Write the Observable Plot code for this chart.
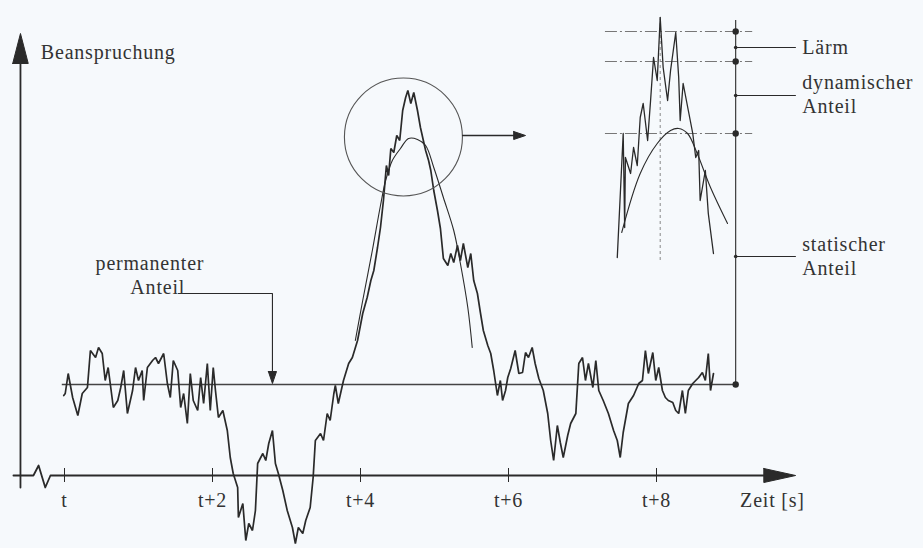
<!DOCTYPE html>
<html><head><meta charset="utf-8">
<script src="https://cdn.jsdelivr.net/npm/d3@7"></script>
<script src="https://cdn.jsdelivr.net/npm/@observablehq/plot@0.6"></script>
<style>
html,body{margin:0;padding:0;background:#f6f9fc;}
#chart svg{display:block}
</style></head><body><div id="chart"></div><script>
// measured signal: [time (s after t), Beanspruchung]
const signal = [[-0.01,8.0],[0.01,8.2],[0.05,10.2],[0.11,7.8],[0.18,6.0],[0.24,8.2],[0.31,8.8],[0.35,12.5],[0.42,11.8],[0.46,12.8],[0.51,12.2],[0.55,9.5],[0.59,10.8],[0.66,6.8],[0.72,7.5],[0.76,8.8],[0.80,10.5],[0.85,6.2],[0.92,8.5],[0.96,10.8],[1.00,9.5],[1.05,10.5],[1.07,7.5],[1.12,10.8],[1.19,11.5],[1.23,11.8],[1.27,11.2],[1.34,12.2],[1.39,9.2],[1.43,7.8],[1.47,11.5],[1.53,10.5],[1.57,6.8],[1.61,8.2],[1.66,5.2],[1.70,10.2],[1.74,7.5],[1.80,6.5],[1.84,9.8],[1.88,7.2],[1.93,11.2],[1.97,6.5],[2.01,10.8],[2.04,8.5],[2.08,5.8],[2.14,6.5],[2.20,4.5],[2.24,1.8],[2.28,0.2],[2.34,-1.2],[2.35,-4.2],[2.41,-2.8],[2.45,-6.5],[2.49,-4.8],[2.54,-5.5],[2.58,-3.5],[2.61,1.2],[2.68,2.2],[2.72,1.5],[2.76,3.2],[2.81,4.5],[2.85,1.2],[2.89,0.2],[2.95,-1.5],[3.01,-3.5],[3.08,-5.2],[3.12,-6.8],[3.16,-5.2],[3.22,-5.8],[3.26,-4.5],[3.32,-3.2],[3.36,-0.2],[3.39,3.5],[3.46,4.2],[3.50,3.5],[3.55,6.2],[3.59,5.5],[3.64,8.2],[3.66,9.0],[3.70,7.2],[3.77,9.5],[3.84,11.2],[3.89,11.8],[3.96,13.5],[4.03,16.2],[4.09,17.8],[4.14,19.5],[4.18,20.5],[4.23,22.8],[4.27,24.8],[4.31,27.5],[4.35,31.0],[4.38,30.0],[4.41,32.7],[4.45,32.3],[4.49,34.0],[4.53,33.5],[4.57,36.5],[4.61,37.8],[4.64,38.5],[4.68,37.2],[4.72,38.3],[4.77,36.5],[4.81,34.8],[4.88,32.5],[4.92,31.5],[4.95,30.5],[4.99,28.5],[5.04,26.5],[5.08,24.7],[5.12,21.7],[5.18,21.0],[5.22,22.2],[5.26,21.3],[5.31,23.0],[5.35,21.5],[5.39,23.2],[5.45,20.8],[5.49,22.2],[5.53,19.5],[5.58,18.2],[5.62,16.3],[5.66,14.5],[5.72,13.0],[5.76,12.2],[5.80,10.5],[5.85,8.0],[5.89,9.5],[5.92,7.5],[5.96,8.5],[5.99,9.8],[6.03,10.7],[6.09,12.5],[6.14,10.2],[6.19,10.3],[6.23,12.3],[6.27,11.8],[6.32,12.8],[6.36,11.2],[6.41,9.7],[6.47,8.5],[6.53,6.2],[6.57,3.5],[6.61,1.5],[6.66,5.0],[6.70,3.3],[6.74,1.8],[6.80,4.0],[6.84,5.2],[6.91,6.2],[6.95,11.2],[7.00,11.8],[7.04,9.5],[7.08,11.2],[7.14,8.8],[7.18,11.5],[7.22,8.5],[7.28,7.5],[7.35,6.2],[7.42,4.5],[7.47,3.5],[7.51,1.8],[7.55,4.3],[7.62,7.2],[7.69,8.0],[7.76,9.2],[7.81,9.5],[7.85,12.5],[7.89,10.2],[7.95,12.3],[7.99,9.5],[8.03,10.8],[8.08,8.5],[8.12,7.8],[8.16,7.5],[8.22,7.3],[8.26,6.5],[8.30,6.2],[8.35,8.5],[8.39,6.2],[8.43,8.5],[8.49,9.2],[8.53,9.5],[8.57,9.8],[8.62,10.3],[8.66,9.5],[8.70,12.2],[8.73,8.5],[8.77,10.2]];
// smooth (quasi-static) curve around the peak
const smoothPeak = [[3.93,13.5],[4.03,17.5],[4.16,22.5],[4.27,27.0],[4.34,29.5],[4.43,31.5],[4.54,32.7],[4.65,33.7],[4.77,33.6],[4.88,33.0],[4.99,30.8],[5.12,27.8],[5.26,24.5],[5.35,21.2],[5.45,16.8],[5.51,12.8]];
// magnified detail (inset)
const insetSignal = [[7.47,21.8],[7.55,34.2],[7.57,24.8],[7.58,31.8],[7.65,30.2],[7.69,32.8],[7.74,31.0],[7.78,35.8],[7.82,37.2],[7.88,33.5],[7.92,37.5],[7.96,41.8],[8.01,39.5],[8.05,45.8],[8.09,40.8],[8.15,37.5],[8.19,40.5],[8.26,44.3],[8.30,39.8],[8.32,35.5],[8.36,39.2],[8.43,36.5],[8.49,34.2],[8.53,31.8],[8.57,32.5],[8.59,27.5],[8.66,30.5],[8.70,26.2],[8.77,22.2]];
const insetSmooth = [[7.53,24.3],[7.78,30.2],[8.01,33.2],[8.19,34.5],[8.30,34.7],[8.42,34.2],[8.55,32.2],[8.73,28.8],[8.96,25.2]];
// levels
const permanentLevel = 9.1;
const insetLevels = [44.4, 41.4, 34.2];           // peak, dynamic top, static top
const scaleX = 9.07;                               // vertical level scale in the inset
const scaleDots = [44.4, 41.4, 34.2, 9.1];
const labelMarks = [42.8, 38.0, 21.9];
// ticks and labels
const tickTimes = [0, 2, 4, 6, 8];
const tickLabels = ["t", "t+2", "t+4", "t+6", "t+8"];
const labels = [
  {x: -0.32, y: 42.3, text: "Beanspruchung"},
  {x: 9.13, y: -2.5, text: "Zeit [s]"},
  {x: 0.42, y: 21.2, text: "permanenter"},
  {x: 0.89, y: 18.8, text: "Anteil"},
  {x: 9.97, y: 42.8, text: "Lärm"},
  {x: 9.97, y: 39.3, text: "dynamischer"},
  {x: 9.97, y: 36.9, text: "Anteil"},
  {x: 9.97, y: 23.1, text: "statischer"},
  {x: 9.97, y: 20.7, text: "Anteil"}
];
// axes drawing (with axis break)
const xAxisPath = [[-0.69,0],[-0.42,0],[-0.35,1.0],[-0.26,-1.2],[-0.19,0],[9.45,0]];
const xArrow = [[9.45,0.7],[9.88,0],[9.45,-0.7],[9.45,0.7]];
const yAxisPath = [[-0.595,-1.2],[-0.595,41.2]];
const yArrow = [[-0.70,41.2],[-0.595,44.2],[-0.49,41.2],[-0.70,41.2]];
const permLeader = [[1.54,18.2],[2.81,18.2],[2.81,10.2]];
const permArrow = [[2.755,10.4],[2.81,9.2],[2.865,10.4],[2.755,10.4]];
const circle = {x: 4.58, y: 33.85};
const circleArrowLine = [[5.38,34.0],[6.12,34.0]];
const circleArrow = [[6.07,34.4],[6.23,34.0],[6.07,33.6],[6.07,34.4]];

const ink = "#2a2a2a";
const font = "Liberation Serif";

const chart = Plot.plot({
  width: 923, height: 548,
  marginLeft: 0, marginRight: 0, marginTop: 0, marginBottom: 0,
  x: {domain: [-64/74, 859/74], axis: null},
  y: {domain: [-7.3, 47.5], axis: null},
  style: {background: "#f6f9fc", letterSpacing: "0.8px"},
  marks: [
    // axes
    Plot.line(xAxisPath, {stroke: ink, strokeWidth: 1.8}),
    Plot.line(xArrow, {stroke: ink, fill: ink, strokeWidth: 1}),
    Plot.line(yAxisPath, {stroke: ink, strokeWidth: 1.8}),
    Plot.line(yArrow, {stroke: ink, fill: ink, strokeWidth: 1}),
    Plot.ruleX(tickTimes, {x: d => d, y1: -0.7, y2: 0.7, stroke: ink, strokeWidth: 1}),
    Plot.text(tickTimes, {x: d => d, y: -2.5, text: (d, i) => tickLabels[i], fontSize: 20, fontFamily: font, fill: "#333"}),
    // permanent level
    Plot.ruleY([permanentLevel], {x1: -0.03, x2: scaleX, stroke: "#444", strokeWidth: 1.3}),
    Plot.line(permLeader, {stroke: ink, strokeWidth: 1.1}),
    Plot.line(permArrow, {stroke: ink, fill: ink, strokeWidth: 1}),
    // inset helper lines
    Plot.ruleY(insetLevels, {x1: 7.31, x2: 9.30, stroke: "#777", strokeWidth: 1, strokeDasharray: "12,3,2,3"}),
    Plot.ruleX([8.05], {y1: 21.5, y2: 46.0, stroke: "#888", strokeWidth: 1, strokeDasharray: "3,3"}),
    Plot.ruleX([scaleX], {y1: permanentLevel, y2: 45.5, stroke: ink, strokeWidth: 1.1}),
    Plot.ruleY(labelMarks, {x1: scaleX, x2: 9.89, stroke: ink, strokeWidth: 1.1}),
    Plot.dot(scaleDots, {x: scaleX, y: d => d, r: 3.2, fill: ink, stroke: "none"}),
    Plot.dot(labelMarks, {x: scaleX, y: d => d, r: 1.8, fill: ink, stroke: "none"}),
    // signal & curves
    Plot.line(signal, {x: d => d[0], y: d => d[1], stroke: ink, strokeWidth: 1.7, strokeLinejoin: "miter"}),
    Plot.line(smoothPeak, {x: d => d[0], y: d => d[1], stroke: ink, strokeWidth: 1.1, curve: "catmull-rom"}),
    Plot.line(insetSignal, {x: d => d[0], y: d => d[1], stroke: ink, strokeWidth: 1.3}),
    Plot.line(insetSmooth, {x: d => d[0], y: d => d[1], stroke: ink, strokeWidth: 1.1, curve: "catmull-rom"}),
    // magnifier circle and arrow
    Plot.dot([circle], {x: "x", y: "y", r: 59, stroke: "#555", strokeWidth: 1.1, fill: "none"}),
    Plot.line(circleArrowLine, {stroke: ink, strokeWidth: 1.3}),
    Plot.line(circleArrow, {stroke: ink, fill: ink, strokeWidth: 1}),
    // labels
    Plot.text(labels, {x: "x", y: "y", text: "text", textAnchor: "start", fontSize: 20, fontFamily: font, fill: "#333"})
  ]
});
document.getElementById("chart").appendChild(chart);
</script></body></html>
